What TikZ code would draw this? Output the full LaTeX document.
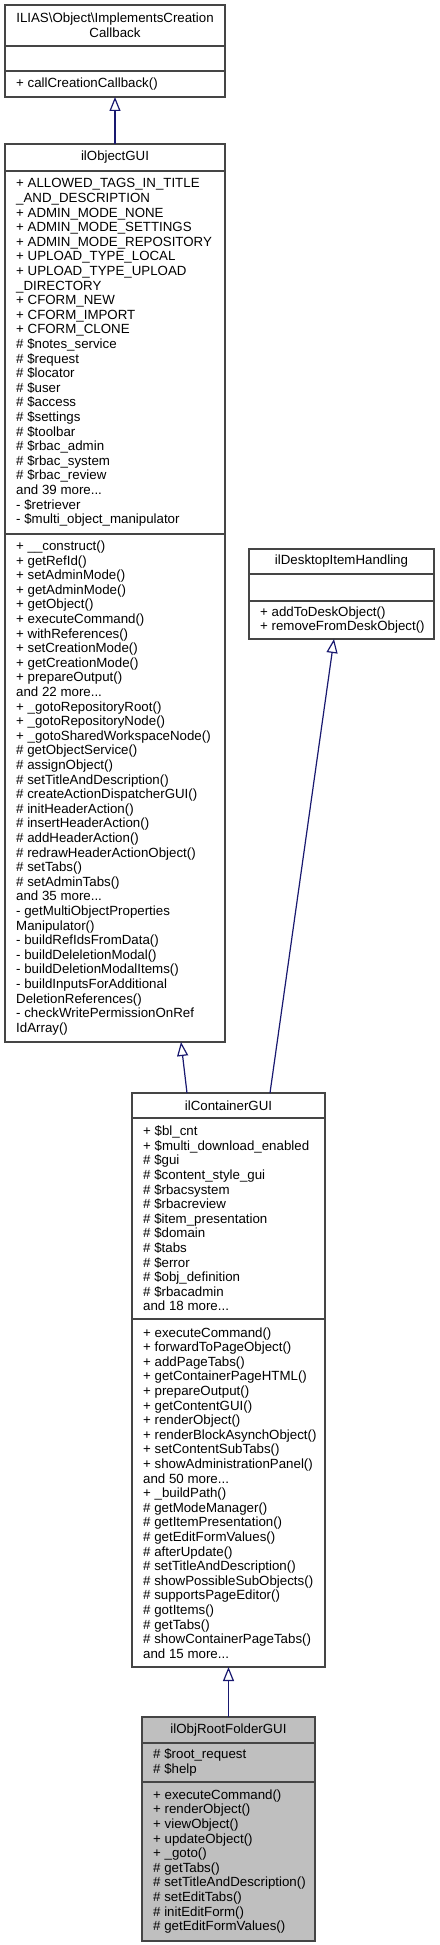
\documentclass[tikz,border=0pt]{standalone}
\usepackage{fontspec}
\setmainfont{Liberation Sans}
\usetikzlibrary{arrows.meta,calc}
\definecolor{bordercol}{HTML}{454545}
\definecolor{edgecol}{HTML}{191970}
\definecolor{selfill}{HTML}{BFBFBF}
\begin{document}
\begin{tikzpicture}[x=1pt,y=-1pt,
  umlbox/.style={draw=bordercol, line width=1.2pt, fill=white, inner sep=0pt, outer sep=0pt, anchor=north west},
  selbox/.style={umlbox, fill=selfill},
  sepline/.style={draw=bordercol, line width=1.2pt},
  txt/.style={font=\fontsize{13.3}{14.6}\selectfont, inner sep=0pt, align=left, anchor=west},
  ttl/.style={font=\fontsize{13.3}{14.6}\selectfont, inner sep=0pt, align=center},
  inh/.style={draw=edgecol, line width=1.2pt, -{Triangle[open, length=14pt, width=11pt]}}
]
\useasboundingbox (0,0) rectangle (439,1945);
\fill[white] (0,0) rectangle (439,1945);

% ---------- ILIAS\Object\ImplementsCreationCallback ----------
\node[umlbox, minimum width=220pt, minimum height=92pt] (iface) at (5,5) {};
\draw[sepline] (5,46) -- (225,46);
\draw[sepline] (5,71) -- (225,71);
\node[ttl] (ifacetitle) at (115,25.5) {ILIAS\textbackslash Object\textbackslash ImplementsCreation\\Callback};
\node[txt] (ifacemeth) at (16,84) {+ callCreationCallback()};

% ---------- ilObjectGUI ----------
\node[umlbox, minimum width=220pt, minimum height=898pt] (objgui) at (5,144) {};
\draw[sepline] (5,171) -- (225,171);
\draw[sepline] (5,534) -- (225,534);
\node[ttl] (objguititle) at (115,157.5) {ilObjectGUI};
\node[txt] (objguiattr) at (16,352.5) {+ ALLOWED\_TAGS\_IN\_TITLE\\
\_AND\_DESCRIPTION\\
+ ADMIN\_MODE\_NONE\\
+ ADMIN\_MODE\_SETTINGS\\
+ ADMIN\_MODE\_REPOSITORY\\
+ UPLOAD\_TYPE\_LOCAL\\
+ UPLOAD\_TYPE\_UPLOAD\\
\_DIRECTORY\\
+ CFORM\_NEW\\
+ CFORM\_IMPORT\\
+ CFORM\_CLONE\\
\# \$notes\_service\\
\# \$request\\
\# \$locator\\
\# \$user\\
\# \$access\\
\# \$settings\\
\# \$toolbar\\
\# \$rbac\_admin\\
\# \$rbac\_system\\
\# \$rbac\_review\\
and 39 more...\\
- \$retriever\\
- \$multi\_object\_manipulator};
\node[txt] (objguimeth) at (16,788) {+ \_\_construct()\\
+ getRefId()\\
+ setAdminMode()\\
+ getAdminMode()\\
+ getObject()\\
+ executeCommand()\\
+ withReferences()\\
+ setCreationMode()\\
+ getCreationMode()\\
+ prepareOutput()\\
and 22 more...\\
+ \_gotoRepositoryRoot()\\
+ \_gotoRepositoryNode()\\
+ \_gotoSharedWorkspaceNode()\\
\# getObjectService()\\
\# assignObject()\\
\# setTitleAndDescription()\\
\# createActionDispatcherGUI()\\
\# initHeaderAction()\\
\# insertHeaderAction()\\
\# addHeaderAction()\\
\# redrawHeaderActionObject()\\
\# setTabs()\\
\# setAdminTabs()\\
and 35 more...\\
- getMultiObjectProperties\\
Manipulator()\\
- buildRefIdsFromData()\\
- buildDeleletionModal()\\
- buildDeletionModalItems()\\
- buildInputsForAdditional\\
DeletionReferences()\\
- checkWritePermissionOnRef\\
IdArray()};

% ---------- ilDesktopItemHandling ----------
\node[umlbox, minimum width=185pt, minimum height=90pt] (desk) at (249,549) {};
\draw[sepline] (249,574) -- (434,574);
\draw[sepline] (249,601) -- (434,601);
\node[ttl] (desktitle) at (341.5,561.5) {ilDesktopItemHandling};
\node[txt] (deskmeth) at (260,620) {+ addToDeskObject()\\
+ removeFromDeskObject()};

% ---------- ilContainerGUI ----------
\node[umlbox, minimum width=193pt, minimum height=574pt] (cont) at (132,1093) {};
\draw[sepline] (132,1118) -- (325,1118);
\draw[sepline] (132,1319) -- (325,1319);
\node[ttl] (conttitle) at (228.5,1105.5) {ilContainerGUI};
\node[txt] (contattr) at (143,1218.5) {+ \$bl\_cnt\\
+ \$multi\_download\_enabled\\
\# \$gui\\
\# \$content\_style\_gui\\
\# \$rbacsystem\\
\# \$rbacreview\\
\# \$item\_presentation\\
\# \$domain\\
\# \$tabs\\
\# \$error\\
\# \$obj\_definition\\
\# \$rbacadmin\\
and 18 more...};
\node[txt] (contmeth) at (143,1493) {+ executeCommand()\\
+ forwardToPageObject()\\
+ addPageTabs()\\
+ getContainerPageHTML()\\
+ prepareOutput()\\
+ getContentGUI()\\
+ renderObject()\\
+ renderBlockAsynchObject()\\
+ setContentSubTabs()\\
+ showAdministrationPanel()\\
and 50 more...\\
+ \_buildPath()\\
\# getModeManager()\\
\# getItemPresentation()\\
\# getEditFormValues()\\
\# afterUpdate()\\
\# setTitleAndDescription()\\
\# showPossibleSubObjects()\\
\# supportsPageEditor()\\
\# gotItems()\\
\# getTabs()\\
\# showContainerPageTabs()\\
and 15 more...};

% ---------- ilObjRootFolderGUI ----------
\node[selbox, minimum width=173pt, minimum height=224pt] (root) at (142,1717) {};
\draw[sepline] (142,1743) -- (315,1743);
\draw[sepline] (142,1782) -- (315,1782);
\node[ttl] (roottitle) at (228.5,1730) {ilObjRootFolderGUI};
\node[txt] (rootattr) at (153,1762.5) {\# \$root\_request\\
\# \$help};
\node[txt] (rootmeth) at (153,1861.5) {+ executeCommand()\\
+ renderObject()\\
+ viewObject()\\
+ updateObject()\\
+ \_goto()\\
\# getTabs()\\
\# setTitleAndDescription()\\
\# setEditTabs()\\
\# initEditForm()\\
\# getEditFormValues()};

% ---------- inheritance connectors ----------
\draw[inh] (objgui.north) -- (iface.south);
\draw[inh] ($(cont.north west)+(55,0)$) -- ($(objgui.south west)+(176,0)$);
\draw[inh] ($(cont.north west)+(138,0)$) -- ($(desk.south west)+(85,0)$);
\draw[inh] (root.north) -- (cont.south);
\end{tikzpicture}
\end{document}
